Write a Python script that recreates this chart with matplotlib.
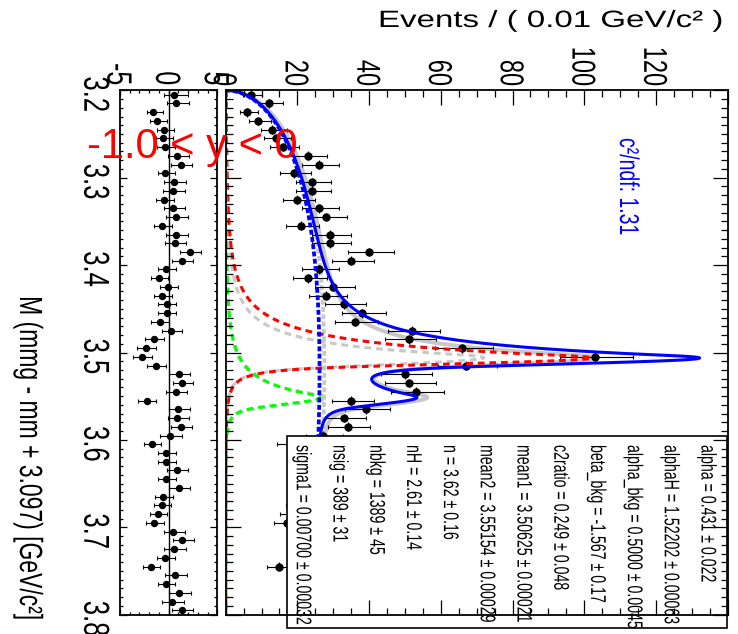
import numpy as np
import matplotlib
matplotlib.use("Agg")
import matplotlib.pyplot as plt
from matplotlib.patheffects import AbstractPathEffect
from matplotlib.transforms import Affine2D, ScaledTranslation
from matplotlib.patches import Rectangle
from matplotlib.ticker import MultipleLocator

plt.rcParams["font.family"] = ["Liberation Sans", "DejaVu Sans"]

# ---------------------------------------------------------------- data
bin_lo, bin_hi, bin_w = 3.2, 3.8, 0.01

counts = [7, 12, 6, 9, 13, 14, 16, 23, 26, 19,
          24, 24, 20, 26, 28, 21, 29, 29, 40, 35,
          26, 23, 30, 28, 33, 38, 36, 52, 51, 66,
          103, 67, 50, 51, 53, 35, 39, 33, 34, 27,
          18, 24, 24, 29, 24, 30, 22, 21, 19, 17,
          27, 31, 27, 22, 15, 27, 22, 28, 25, 29]

pulls = [0.55, 0.79, -1.58, -1.16, -0.48, -0.55, -0.38, 0.89, 1.23, -0.34,
         0.55, 0.41, -0.48, 0.48, 0.75, -0.65, 0.75, 0.62, 2.19, 1.37,
         -0.27, -1.03, -0.03, -0.65, -0.21, -0.21, -0.92, 0.27, -1.51, -2.33,
         -2.71, -1.30, 1.06, 1.40, 0.72, -2.26, 0.99, 0.89, 1.23, 0.14,
         -1.75, -0.27, -0.27, 0.82, -0.27, 1.03, -0.55, -0.72, -1.13, -1.51,
         0.48, 1.40, 0.55, -0.38, -1.85, 0.65, -0.30, 1.04, 0.32, 1.34]

# fitted parameters (nominal fit)
alpha, alphaH = 0.431, 1.52202
n_lo, n_hi = 3.62, 2.61
alpha_bkg, beta_bkg = 0.5000, -1.567
mean1, mean2 = 3.50625, 3.55154
sigma1, sigma2 = 0.00700, 0.0078
nbkg = 1389
chic1_peak, chic2_peak = 102.0, 26.3

# alternative fit shown in grey
alt_nbkg = 1460
alt_mean1, alt_mean2 = 3.5060, 3.5515
alt_sigma1, alt_sigma2 = 0.0080, 0.0085
alt_alpha, alt_n = 0.55, 3.0
alt_alphaH, alt_nH = 1.5, 3.0
alt_chic1_peak, alt_chic2_peak = 72.0, 28.0

param_lines = [
    "alpha = 0.431 \u00b1 0.022",
    "alphaH = 1.52202 \u00b1 0.00063",
    "alpha_bkg = 0.5000 \u00b1 0.0045",
    "beta_bkg = -1.567 \u00b1 0.17",
    "c2ratio = 0.249 \u00b1 0.048",
    "mean1 = 3.50625 \u00b1 0.00021",
    "mean2 = 3.55154 \u00b1 0.00029",
    "n = 3.62 \u00b1 0.16",
    "nH = 2.61 \u00b1 0.14",
    "nbkg = 1389 \u00b1 45",
    "nsig = 389 \u00b1 31",
    "sigma1 = 0.00700 \u00b1 0.00032",
]
chi2_text = "c\u00b2/ndf: 1.31"
rapidity_text = "-1.0 < y < 0"
events_ticks = [0, 20, 40, 60, 80, 100, 120, 140]
events_ticklabels = ["0", "20", "40", "60", "80", "100", "120", ""]
mass_ticks = [3.2, 3.3, 3.4, 3.5, 3.6, 3.7, 3.8]
mass_ticklabels = ["3.2", "3.3", "3.4", "3.5", "3.6", "3.7", "3.8"]
pull_ticks = [-5, 0, 5]
pull_ticklabels = ["-5", "0", "5"]

# ---------------------------------------------------------------- helpers
W, H, DPI = 738, 634, 100
SX = 1.4


class Widen(AbstractPathEffect):
    """Scale glyph outlines along display x about the text origin."""

    def __init__(self, sx):
        super().__init__()
        self._sx = sx

    def draw_path(self, renderer, gc, tpath, affine, rgbFace=None):
        x0, y0 = affine.transform((0.0, 0.0))
        wide = affine + Affine2D().translate(-x0, -y0).scale(self._sx, 1.0).translate(x0, y0)
        renderer.draw_path(gc, tpath, wide, rgbFace)


def fx(px):
    return px / W


def fy(py):
    return 1.0 - py / H


def dscb(x, mean, sigma, aL, nL, aH, nH):
    t = (x - mean) / sigma
    out = np.exp(-0.5 * t * t)
    AL = (nL / aL) ** nL * np.exp(-0.5 * aL * aL)
    BL = nL / aL - aL
    AH = (nH / aH) ** nH * np.exp(-0.5 * aH * aH)
    BH = nH / aH - aH
    lo = t < -aL
    hi = t > aH
    out[lo] = AL * (BL - t[lo]) ** (-nL)
    out[hi] = AH * (BH + t[hi]) ** (-nH)
    return out


def threshold(x, a, b):
    d = np.clip(x - bin_lo, 0.0, None)
    return d ** a * np.exp(b * d)


# ---------------------------------------------------------------- curves
m = np.linspace(bin_lo, bin_hi, 3001)
bshape = threshold(m, alpha_bkg, beta_bkg)
bnorm = np.trapezoid(bshape, m)
bkg = nbkg * bin_w * bshape / bnorm
sig1 = chic1_peak * dscb(m, mean1, sigma1, alpha, n_lo, alphaH, n_hi)
sig2 = chic2_peak * dscb(m, mean2, sigma2, alpha, n_lo, alphaH, n_hi)
total = bkg + sig1 + sig2

alt_bkg = alt_nbkg * bin_w * bshape / bnorm
alt_sig1 = alt_chic1_peak * dscb(m, alt_mean1, alt_sigma1, alt_alpha, alt_n, alt_alphaH, alt_nH)
alt_sig2 = alt_chic2_peak * dscb(m, alt_mean2, alt_sigma2, alt_alpha, alt_n, alt_alphaH, alt_nH)
alt_total = alt_bkg + alt_sig1 + alt_sig2

centers = bin_lo + bin_w * (np.arange(len(counts)) + 0.5)
N = np.asarray(counts, dtype=float)
err_lo = np.sqrt(N + 0.25) - 0.5
err_hi = np.sqrt(N + 0.25) + 0.5
P = np.asarray(pulls)
ref = np.where(P >= 0, err_lo, err_hi)
p_lo, p_hi = err_lo / ref, err_hi / ref

# ---------------------------------------------------------------- figure
fig = plt.figure(figsize=(W / DPI, H / DPI), dpi=DPI)
frame_top, frame_bot = 90.3, 614.7
ax = fig.add_axes([fx(225.7), fy(frame_bot), fx(727.7) - fx(225.7), fy(frame_top) - fy(frame_bot)])
rax = fig.add_axes([fx(120.0), fy(frame_bot), fx(217.3) - fx(120.0), fy(frame_top) - fy(frame_bot)])

for a in (ax, rax):
    a.set_ylim(bin_hi, bin_lo)
    a.set_axisbelow(False)
    for s in a.spines.values():
        s.set_linewidth(1.3)
        s.set_zorder(2.6)

ax.set_xlim(0, 140)
rax.set_xlim(-5, 5)

dash = (0, (2.2, 1.6))
dots = (0, (1.3, 0.65))
grey = "#c8c8c8"

# main panel: grey alternative fit underneath
ax.plot(alt_total, m, color=grey, lw=2.8, zorder=1.8)
ax.plot(alt_sig1, m, color=grey, lw=2.2, ls=dash, zorder=1.8)
ax.plot(alt_sig2, m, color=grey, lw=2.2, ls=dash, zorder=1.8)
ax.plot(alt_bkg, m, color=grey, lw=2.7, ls=dots, zorder=1.8)

ax.errorbar(N, centers, yerr=bin_w / 2, fmt="none", ecolor="black", elinewidth=0.8, capsize=0, zorder=1.9)
ax.errorbar(N, centers, xerr=[err_lo, err_hi], fmt="o", ms=5.0, color="black", mec="black",
            ecolor="black", elinewidth=0.8, capsize=1.5, capthick=0.8, zorder=1.9)

ax.plot(sig1, m, color="#ff0000", lw=2.2, ls=dash, zorder=2.0)
ax.plot(sig2, m, color="#00ff00", lw=2.2, ls=dash, zorder=2.0)
ax.plot(bkg, m, color="#0000ff", lw=2.7, ls=dots, zorder=2.05)
ax.plot(total, m, color="#0000ff", lw=2.2, zorder=2.1)

# parameter box
box_l, box_r, box_t, box_b = 286.7, 726.7, 435.7, 628.0
ax.add_patch(Rectangle((fx(box_l), fy(box_b)), fx(box_r) - fx(box_l), fy(box_t) - fy(box_b),
                       transform=fig.transFigure, facecolor="white", edgecolor="black",
                       lw=1.2, clip_on=False, zorder=2.3))
for i, line in enumerate(param_lines):
    t = ax.text(fx(701.5 - 36.8 * i), fy(445.0), line, transform=fig.transFigure,
                rotation=-90, rotation_mode="anchor", ha="left", va="baseline",
                fontsize=10.2, color="black", zorder=2.4, clip_on=False)
    t.set_path_effects([Widen(1.5)])

t = ax.text(fx(620.0), fy(138.0), chi2_text, transform=fig.transFigure, rotation=-90,
            rotation_mode="anchor", ha="left", va="baseline", fontsize=14, color="#0000ff", zorder=2.4)
t.set_path_effects([Widen(SX)])

# residual panel
rax.axvline(0.0, color="black", lw=1.0, zorder=1.5)
rax.errorbar(P, centers, xerr=[p_lo, p_hi], fmt="o", ms=4.3, color="black", mec="black",
             ecolor="black", elinewidth=0.8, capsize=1.1, capthick=0.8, zorder=2.0)

# ---------------------------------------------------------------- axes
ax.set_xticks(events_ticks, labels=events_ticklabels)
ax.xaxis.set_minor_locator(MultipleLocator(5))
ax.set_yticks(mass_ticks, labels=[""] * len(mass_ticks))
ax.yaxis.set_minor_locator(MultipleLocator(0.01))
ax.tick_params(which="both", direction="in", top=True, bottom=True, left=True, right=True,
               labeltop=True, labelbottom=False, labelleft=False, labelright=False, width=0.9)
ax.tick_params(which="major", length=10.8)
ax.tick_params(which="minor", length=5.2)
ax.tick_params(axis="x", pad=3.0)

rax.set_xticks(pull_ticks, labels=pull_ticklabels)
rax.xaxis.set_minor_locator(MultipleLocator(1))
rax.set_yticks(mass_ticks, labels=mass_ticklabels)
rax.yaxis.set_minor_locator(MultipleLocator(0.01))
rax.tick_params(which="both", direction="in", top=True, bottom=True, left=True, right=True,
                labeltop=True, labelbottom=False, labelleft=True, labelright=False, width=0.9)
rax.tick_params(axis="x", which="major", length=4.3, pad=3.6)
rax.tick_params(axis="x", which="minor", length=2.2)
rax.tick_params(axis="y", which="major", length=4.7, pad=25.0)
rax.tick_params(axis="y", which="minor", length=2.4)

ax.set_xlabel("Events / ( 0.01 GeV/c\u00b2 )", fontsize=17, ha="left", va="baseline")
ax.xaxis.set_label_position("top")
ax.xaxis.set_label_coords((378.0 - 225.7) / 502.0, (frame_bot - 27.0) / (frame_bot - frame_top))
ax.xaxis.label.set_path_effects([Widen(SX)])

rax.set_ylabel("M (mmg - mm + 3.097) [GeV/c\u00b2]", fontsize=16.5, rotation=-90,
               rotation_mode="anchor", ha="right", va="baseline")
rax.yaxis.set_label_coords((20.0 - 120.0) / 97.3, (frame_bot - 620.0) / (frame_bot - frame_top))
rax.yaxis.label.set_path_effects([Widen(SX)])


def rotate_label(lbl, size, ha, dx_px=0.0, dy_px=0.0):
    lbl.set_rotation(-90)
    lbl.set_rotation_mode("anchor")
    lbl.set_horizontalalignment(ha)
    lbl.set_verticalalignment("baseline")
    lbl.set_fontsize(size)
    lbl.set_path_effects([Widen(SX)])
    if dx_px or dy_px:
        lbl.set_transform(lbl.get_transform()
                          + ScaledTranslation(dx_px / DPI, -dy_px / DPI, fig.dpi_scale_trans))


ev_size = 17
for tk in ax.xaxis.get_major_ticks():
    rotate_label(tk.label2, ev_size, "right", -0.5 * 0.716 * ev_size * DPI / 72 * SX)
for tk in rax.xaxis.get_major_ticks():
    rotate_label(tk.label2, 18, "right", -0.5 * 0.716 * 18 * DPI / 72 * SX)
for tk in rax.yaxis.get_major_ticks():
    rotate_label(tk.label1, 18.5, "center", -1.0, 4.0)

fig.text(fx(87.0), fy(158.0), rapidity_text, fontsize=30, color="#ff0000",
         ha="left", va="baseline", zorder=5)

fig.savefig("out.png", dpi=DPI)
